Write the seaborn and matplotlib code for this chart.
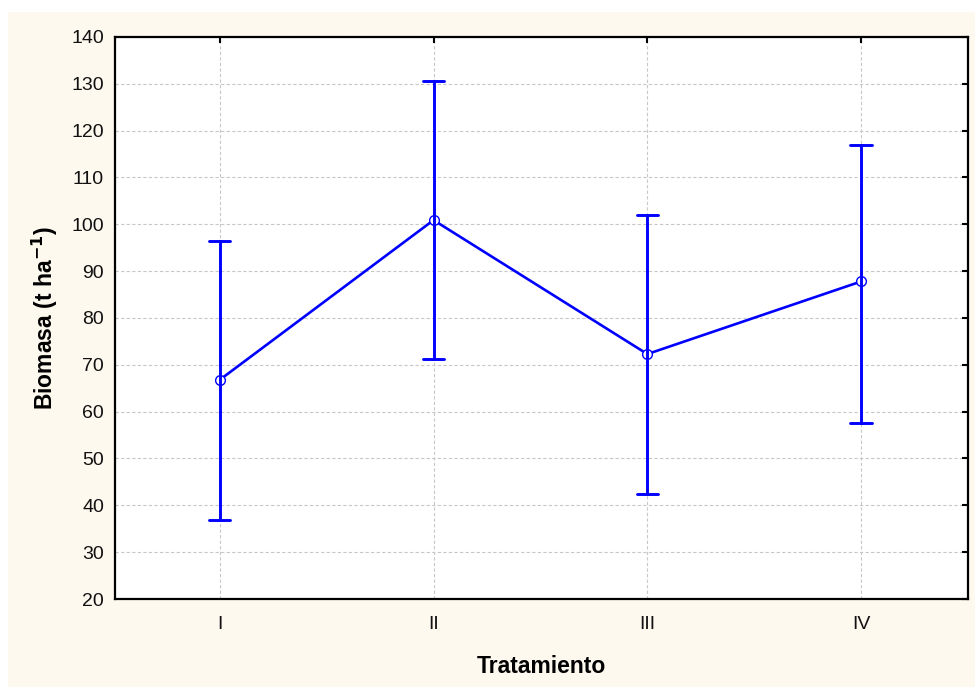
import numpy as np
import pandas as pd
import seaborn as sns
import matplotlib.pyplot as plt
from matplotlib.patches import Rectangle

tratamiento = ['I', 'II', 'III', 'IV']
media = [66.8, 100.9, 72.3, 87.8]
inferior = [36.9, 71.2, 42.4, 57.6]
superior = [96.5, 130.6, 102.0, 117.0]

# long format: lower / mean / upper per group -> median + min/max range
rows = []
for t, lo, m, hi in zip(tratamiento, inferior, media, superior):
    for v in (lo, m, hi):
        rows.append({'Tratamiento': t, 'Biomasa': v})
df = pd.DataFrame(rows)

sns.set_style('white')
plt.rcParams['font.family'] = ['Liberation Sans', 'DejaVu Sans']

fig = plt.figure(figsize=(9.76, 6.88), dpi=100)
fig.patch.set_facecolor('white')
fig.patches.append(Rectangle((8 / 976, 1 / 688), 967 / 976, 675 / 688,
                             transform=fig.transFigure, facecolor='#fef9ef',
                             edgecolor='none', zorder=-10))
ax = fig.add_axes([115 / 976, 89 / 688, 853 / 976, 562 / 688])
ax.set_facecolor('white')

blue = '#0000ff'
sns.pointplot(data=df, x='Tratamiento', y='Biomasa', order=tratamiento,
              estimator=np.median, errorbar=lambda x: (x.min(), x.max()),
              color=blue, capsize=0.1, linewidth=1.9,
              err_kws={'linewidth': 2.1},
              marker='o', markersize=7, markerfacecolor='white',
              markeredgecolor=blue, markeredgewidth=1.0, ax=ax)

ax.set_xlim(-0.49, 3.5)
ax.set_ylim(20, 140)
ax.set_yticks(range(20, 141, 10))
ax.grid(True, color='#c8c8c8', linestyle=(0, (3, 2)), linewidth=0.8)
ax.set_axisbelow(True)
for s in ax.spines.values():
    s.set_visible(True)
    s.set_color('black')
    s.set_linewidth(1.6)
ax.tick_params(direction='in', length=4, width=1.5, color='black',
               top=True, right=True, labelsize=14, labelcolor='#111111')
ax.tick_params(axis='y', pad=8)
ax.tick_params(axis='x', pad=12)

ax.set_xlabel('Tratamiento', fontsize=16.5, fontweight='bold', labelpad=16,
              color='black')
ax.set_ylabel('Biomasa (t ha$^{\\mathbf{-1}}$)', fontsize=16.5,
              fontweight='bold', labelpad=8, color='black')

fig.savefig('out.png', dpi=100, facecolor=fig.get_facecolor())
